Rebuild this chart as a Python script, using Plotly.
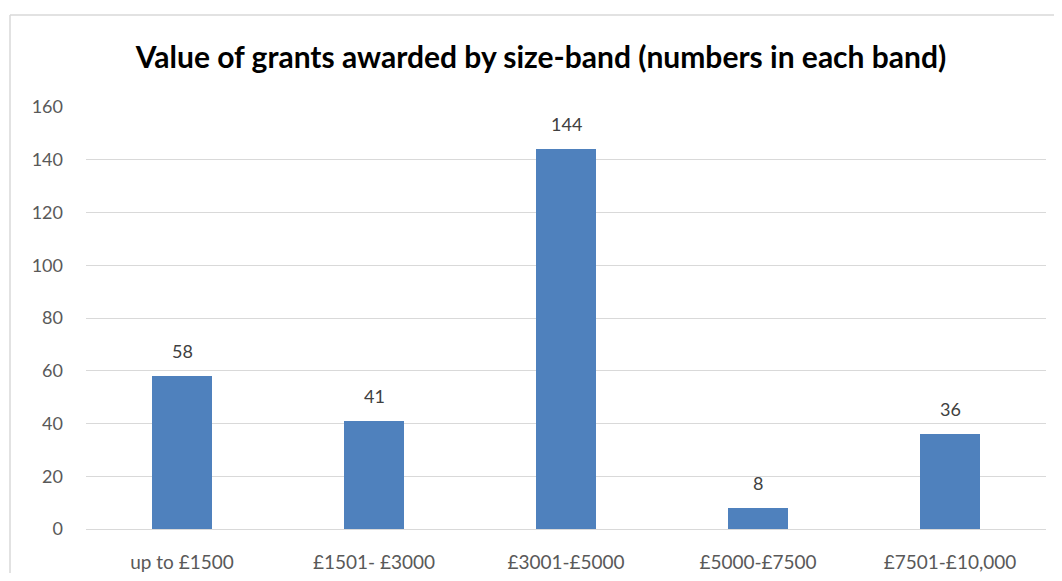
import plotly.graph_objects as go

categories = ["up to £1500", "£1501- £3000", "£3001-£5000", "£5000-£7500", "£7501-£10,000"]
values = [58, 41, 144, 8, 36]
y_ticks = [0, 20, 40, 60, 80, 100, 120, 140, 160]

# page body adds an 8px margin on every side; keep the figure inside the window
OFF = 8
W, H = 1062 - 2 * OFF, 581 - 2 * OFF
L, T = 86 - OFF, 107 - OFF
R = W - (1046 - OFF)
B = H - (529 - OFF)
FONT = "Lato, Open Sans, sans-serif"

fig = go.Figure()
fig.add_trace(go.Bar(
    x=categories, y=values,
    marker=dict(color="#4F81BD", line=dict(width=0)),
    width=0.3125, hoverinfo="x+y",
))

annotations = [
    dict(x=c, y=v, xref="x", yref="y", text=str(v), showarrow=False,
         yanchor="middle", yshift=25,
         font=dict(family=FONT, size=18, color="#404040"))
    for c, v in zip(categories, values)
]

# chart-area border: only left and top edges are visible in the frame
bx = (10 - OFF) / W
by = 1 - (15 - OFF) / H
border = [
    dict(type="line", xref="paper", yref="paper", x0=bx, x1=bx, y0=-0.2, y1=by,
         line=dict(color="#D9D9D9", width=1.5)),
    dict(type="line", xref="paper", yref="paper", x0=bx, x1=1.2, y0=by, y1=by,
         line=dict(color="#D9D9D9", width=1.5)),
]
# convert paper-relative coordinates (computed on full figure) into plot-area paper coords
PW, PH = W - L - R, H - T - B
for s in border:
    s["x0"] = (s["x0"] * W - L) / PW
    s["x1"] = (s["x1"] * W - L) / PW
    s["y0"] = (s["y0"] * H - B) / PH
    s["y1"] = (s["y1"] * H - B) / PH

fig.update_layout(
    width=W, height=H,
    margin=dict(l=L, r=R, t=T, b=B, autoexpand=False),
    paper_bgcolor="white", plot_bgcolor="white",
    title=dict(text="<b>Value of grants awarded by size-band (numbers in each band)</b>",
               x=(541 - OFF) / W, xanchor="center", y=1 - (57 - OFF) / H, yanchor="middle",
               font=dict(family=FONT, size=30, color="#000000")),
    showlegend=False,
    bargap=0,
    annotations=annotations,
    xaxis=dict(showgrid=False, showline=False, ticks="", zeroline=False,
               ticklabelstandoff=20,
               tickfont=dict(family=FONT, size=19, color="#595959")),
    yaxis=dict(range=[0, 160], tickvals=y_ticks, showgrid=True, gridcolor="#D9D9D9",
               gridwidth=1, zeroline=True, zerolinecolor="#D9D9D9", zerolinewidth=1,
               showline=False, ticks="", ticklabelstandoff=22,
               tickfont=dict(family=FONT, size=18, color="#595959")),
    shapes=border,
)

fig.write_html("out.html")
